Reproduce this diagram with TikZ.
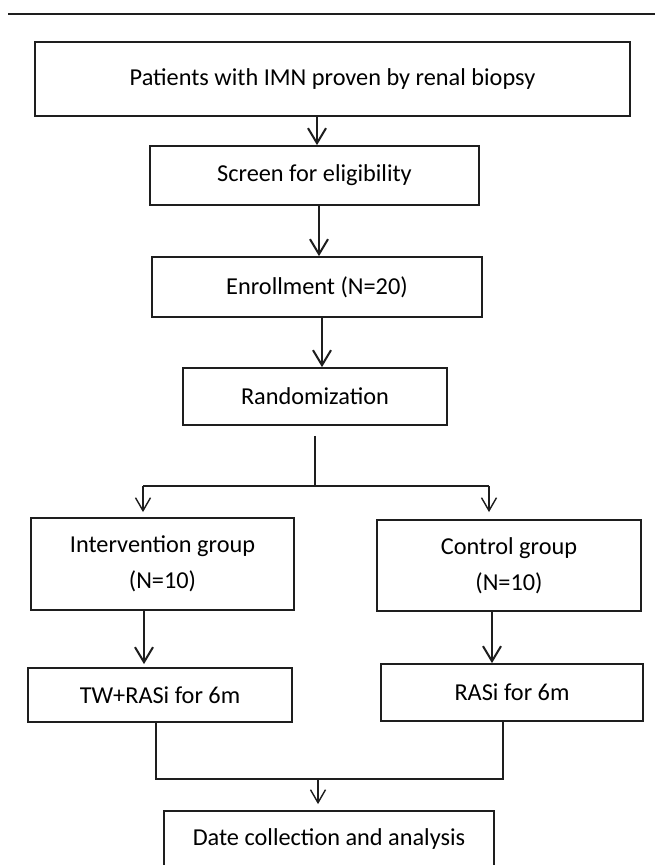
\documentclass[tikz,border=0pt]{standalone}
\usepackage{fontspec}
\setmainfont{Carlito}
\usetikzlibrary{arrows.meta}
\definecolor{ink}{HTML}{1E1E1E}
\begin{document}
\begin{tikzpicture}[x=1pt,y=-1pt,
  box/.style={draw=ink, line width=1.8pt, inner sep=0pt, align=center,
    font=\fontsize{24.3}{36}\selectfont, text=black},
  arrthick/.style={draw=ink, line width=2pt, -{Straight Barb[length=15pt,width=18pt,line width=2pt]}},
  arrthin/.style={draw=ink, line width=1.4pt, -{Straight Barb[length=13pt,width=15pt,line width=1.4pt]}},
  thinline/.style={draw=ink, line width=1.4pt}]
\clip (0,0) rectangle (655,865);
\fill[white] (0,0) rectangle (655,865);
\draw[ink, line width=2.6pt] (8,14) -- (655,14);

\node[box, minimum width=595pt, minimum height=74pt] (b1) at (332.5,79) {Patients with IMN proven by renal biopsy};
\node[box, minimum width=329pt, minimum height=59pt] (b2) at (314.5,175.5) {Screen for eligibility};
\node[box, minimum width=330pt, minimum height=60pt] (b3) at (317,287) {Enrollment (N=20)};
\node[box, minimum width=264pt, minimum height=57pt] (b4) at (315,396.5) {Randomization};
\node[box, minimum width=263pt, minimum height=92pt] (b5) at (162.5,564) {Intervention group\\(N=10)};
\node[box, minimum width=264pt, minimum height=91pt] (b6) at (509,565.5) {Control group\\(N=10)};
\node[box, minimum width=264pt, minimum height=54pt] (b7) at (160,695) {TW+RASi for 6m};
\node[box, minimum width=262pt, minimum height=57pt] (b8) at (512,692.5) {RASi for 6m};
\node[box, minimum width=330pt, minimum height=56pt] (b9) at (329,839) {Date collection and analysis};

% vertical arrows in the main trunk
\draw[arrthick] ([xshift=-15.5pt]b1.south) -- ([xshift=-15.5pt]b1.south |- b2.north);
\draw[arrthick] ([xshift=4.5pt]b2.south) -- ([xshift=4.5pt]b2.south |- b3.north);
\draw[arrthick] ([xshift=5pt]b3.south) -- ([xshift=5pt]b3.south |- b4.north);

% split after randomization
\coordinate (rs) at ([yshift=-10pt]b4.south);
\coordinate (sp) at ([yshift=-61pt]b4.south);
\draw[thinline] (rs) -- (sp);
\coordinate (spl) at (143,486);
\coordinate (spr) at (489,486);
\draw[thinline] (spl) -- (spr);
\draw[arrthin] (spl) -- ([yshift=5pt]spl |- b5.north);
\draw[arrthin] (spr) -- ([yshift=7pt]spr |- b6.north);

% group arrows
\draw[arrthick] ([xshift=-18.5pt]b5.south) -- ([xshift=-18.5pt,yshift=3pt]b5.south |- b7.north);
\draw[arrthick] ([xshift=-17pt]b6.south) -- ([xshift=-17pt]b6.south |- b8.north);

% merge
\coordinate (ml) at (156,779);
\coordinate (mr) at (503,779);
\draw[thinline] ([xshift=-4pt]b7.south) -- (ml) -- (mr) -- (mr |- b8.south);
\draw[arrthin] (318,779) -- ([yshift=6pt]b9.north -| 318,0);
\end{tikzpicture}
\end{document}
